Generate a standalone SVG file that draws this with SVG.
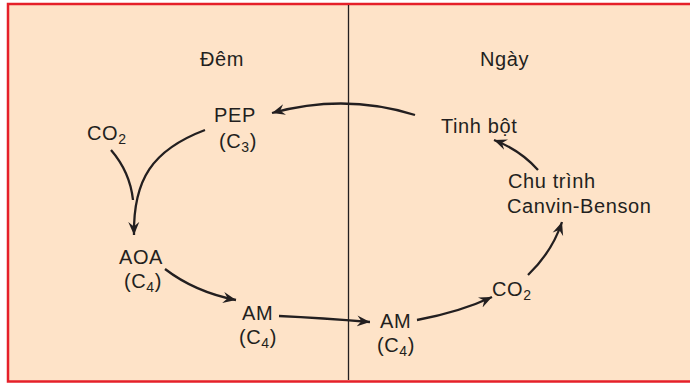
<svg xmlns="http://www.w3.org/2000/svg" width="690" height="383" viewBox="0 0 690 383">
<defs>
<style>
.t{font-family:"Liberation Sans",Arial,sans-serif;font-size:20px;fill:#231F20;letter-spacing:0.6px}
.s{font-size:14px}
.c{fill:none;stroke:#231F20;stroke-width:2.3;stroke-linecap:butt}
</style>
<marker id="ah" viewBox="-13 -6 14 12" markerWidth="14" markerHeight="12" refX="0" refY="0" orient="auto" markerUnits="userSpaceOnUse">
<path d="M0,0 L-13,-5.5 L-8.5,0 L-13,5.5 Z" fill="#231F20"/>
</marker>
</defs>
<rect x="0" y="0" width="690" height="383" fill="#FFFFFF"/>
<rect x="8" y="4" width="690" height="377.5" fill="#FEE3C8" stroke="#E5202A" stroke-width="2.5"/>
<line x1="348.5" y1="5" x2="348.5" y2="380" stroke="#231F20" stroke-width="1.3"/>
<text class="t" x="200" y="66">Đêm</text>
<text class="t" x="480" y="66">Ngày</text>
<g id="connectors">
<path class="c" d="M415,115 Q345,93 272,113" marker-end="url(#ah)"/>
<path class="c" d="M205,130 C152,150 133,180 134,235" marker-end="url(#ah)"/>
<path class="c" d="M111,150 Q130,172 133,200"/>
<path class="c" d="M165,269 Q195,292 236,300" marker-end="url(#ah)"/>
<path class="c" d="M279,316 Q322,318 370,322" marker-end="url(#ah)"/>
<path class="c" d="M417,320 Q460,312 492,297" marker-end="url(#ah)"/>
<path class="c" d="M528,275 Q552,252 562,222" marker-end="url(#ah)"/>
<path class="c" d="M538,170 Q520,150 494,140" marker-end="url(#ah)"/>
</g>
<g id="pep"><text class="t" x="214" y="122">PEP</text><text class="t" x="219" y="148">(C<tspan class="s" dy="4">3</tspan><tspan dy="-4">)</tspan></text></g>
<g id="co2-left"><text class="t" x="87" y="140">CO<tspan class="s" dy="4">2</tspan></text></g>
<g id="tinh-bot"><text class="t" x="441" y="133">Tinh bột</text></g>
<g id="canvin"><text class="t" x="508" y="188">Chu trình</text><text class="t" x="507" y="213">Canvin-Benson</text></g>
<g id="aoa"><text class="t" x="119" y="264">AOA</text><text class="t" x="124" y="288">(C<tspan class="s" dy="4">4</tspan><tspan dy="-4">)</tspan></text></g>
<g id="am-left"><text class="t" x="242" y="320">AM</text><text class="t" x="239" y="344">(C<tspan class="s" dy="4">4</tspan><tspan dy="-4">)</tspan></text></g>
<g id="am-right"><text class="t" x="380" y="328">AM</text><text class="t" x="377" y="352">(C<tspan class="s" dy="4">4</tspan><tspan dy="-4">)</tspan></text></g>
<g id="co2-right"><text class="t" x="492" y="296">CO<tspan class="s" dy="4">2</tspan></text></g>
</svg>
